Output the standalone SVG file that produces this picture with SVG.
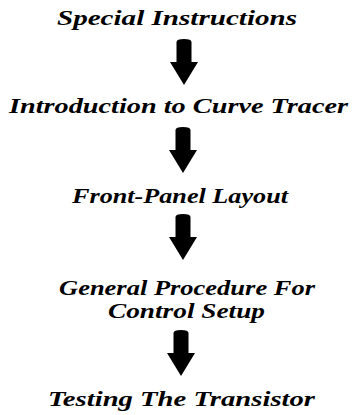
<svg xmlns="http://www.w3.org/2000/svg" width="352" height="415" viewBox="0 0 352 415">
<style>
.t{font-family:"Liberation Serif","Times New Roman",serif;font-style:italic;font-weight:bold;font-size:20px;fill:#000}
.a{fill:#000}
</style>
<defs>
<path id="arr" d="M-7.5,0 Q-7.5,-3 0,-3 Q7.5,-3 7.5,0 L7.5,20 L14,20 L0,43 L-14,20 L-7.5,20 Z"/>
</defs>
<rect width="352" height="415" fill="#fff"/>
<g id="n1"><text class="t" x="57" y="25" textLength="240" lengthAdjust="spacingAndGlyphs">Special Instructions</text></g>
<g id="n2"><text class="t" x="9" y="113" textLength="339" lengthAdjust="spacingAndGlyphs">Introduction to Curve Tracer</text></g>
<g id="n3"><text class="t" x="72" y="203" textLength="216" lengthAdjust="spacingAndGlyphs">Front-Panel Layout</text></g>
<g id="n4"><text class="t" x="59" y="295" textLength="256" lengthAdjust="spacingAndGlyphs">General Procedure For</text>
<text class="t" x="108" y="318" textLength="157" lengthAdjust="spacingAndGlyphs">Control Setup</text></g>
<g id="n5"><text class="t" x="48" y="406" textLength="267" lengthAdjust="spacingAndGlyphs">Testing The Transistor</text></g>
<g id="connectors" class="a">
<use href="#arr" x="184" y="42"/>
<use href="#arr" x="183" y="130"/>
<use href="#arr" x="183" y="217"/>
<use href="#arr" x="181" y="333"/>
</g>
</svg>
